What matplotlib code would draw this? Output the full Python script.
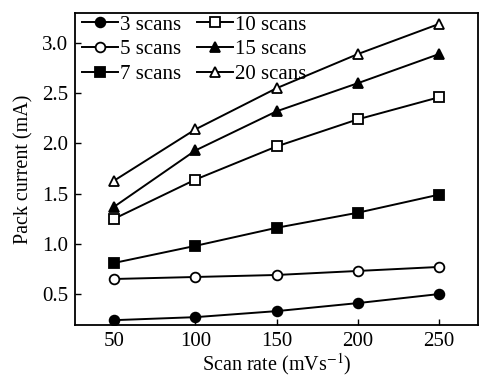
import matplotlib
matplotlib.use("Agg")
import matplotlib.pyplot as plt

plt.rcParams['font.family'] = ['Liberation Serif', 'DejaVu Serif']
plt.rcParams['mathtext.fontset'] = 'stix'

scan_rate = [50, 100, 150, 200, 250]
s3 = [0.24, 0.27, 0.33, 0.41, 0.50]
s5 = [0.65, 0.67, 0.69, 0.73, 0.77]
s7 = [0.81, 0.98, 1.16, 1.31, 1.49]
s10 = [1.25, 1.64, 1.97, 2.24, 2.46]
s15 = [1.37, 1.93, 2.32, 2.60, 2.89]
s20 = [1.63, 2.14, 2.55, 2.89, 3.19]
labels = ['3 scans', '5 scans', '7 scans', '10 scans', '15 scans', '20 scans']

fig = plt.figure(figsize=(4.79, 3.79), dpi=100)
ax = fig.add_axes([0.157, 0.142, 0.841, 0.824])

styles = [('o', 'black'), ('o', 'white'), ('s', 'black'),
          ('s', 'white'), ('^', 'black'), ('^', 'white')]
series = [s3, s5, s7, s10, s15, s20]
for ys, (m, fc), lab in zip(series, styles, labels):
    ax.plot(scan_rate, ys, color='black', lw=1.4, marker=m, markersize=7,
            markerfacecolor=fc, markeredgecolor='black', markeredgewidth=1.3,
            label=lab)

ax.set_xlim(26, 274)
ax.set_ylim(0.19, 3.3)
ax.set_xticks(scan_rate)
ax.set_yticks([0.5, 1.0, 1.5, 2.0, 2.5, 3.0])
ax.set_yticklabels(['0.5', '1.0', '1.5', '2.0', '2.5', '3.0'])
ax.tick_params(direction='in', labelsize=15, length=4, width=1, pad=5)
for s in ax.spines.values():
    s.set_linewidth(1.3)

ax.set_xlabel('Scan rate (mVs$^{-1}$)', fontsize=14.5, labelpad=0)
ax.set_ylabel('Pack current (mA)', fontsize=14.5, labelpad=6)

ax.legend(ncol=2, loc='upper left', frameon=False, fontsize=15,
          handlelength=1.7, handletextpad=0.1, columnspacing=0.8,
          labelspacing=0.25, borderaxespad=0.05, borderpad=0.05,
          bbox_to_anchor=(0.012, 1.0))

fig.savefig('out.png', dpi=100)
